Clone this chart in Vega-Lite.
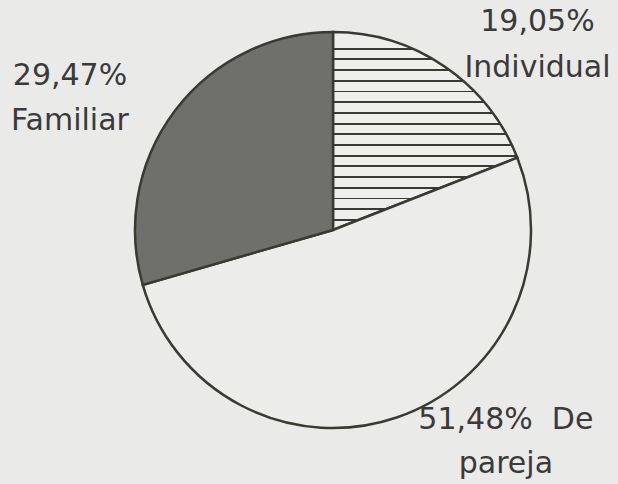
{
  "$schema": "https://vega.github.io/schema/vega-lite/v6.json",
  "width": 396,
  "height": 396,
  "autosize": {"type": "none"},
  "padding": {"left": 135, "top": 32, "right": 87, "bottom": 56},
  "background": "#eaeae8",
  "view": {"stroke": null},
  "data": {
    "values": [
      {"cat": "Individual", "pct": 19.05, "orden": 1, "label": "19,05%\nIndividual"},
      {"cat": "De pareja", "pct": 51.48, "orden": 2, "label": "51,48%\u00a0 De\npareja"},
      {"cat": "Familiar", "pct": 29.47, "orden": 3, "label": "29,47%\nFamiliar"}
    ]
  },
  "encoding": {
    "theta": {"field": "pct", "type": "quantitative", "stack": true},
    "order": {"field": "orden", "type": "quantitative"},
    "detail": {"field": "cat"}
  },
  "layer": [
    {
      "mark": {"type": "arc", "stroke": "#3a3a32", "strokeWidth": 2.5},
      "encoding": {
        "fill": {
          "condition": [
            {
              "test": "datum.cat === 'Individual'",
              "value": {
                "gradient": "linear",
                "x1": 0, "y1": 0, "x2": 0, "y2": 1,
                "stops": [
                  {"offset": 0, "color": "#eeeeec"},
                  {"offset": 0.0798, "color": "#eeeeec"}, {"offset": 0.0798, "color": "#3a3a32"}, {"offset": 0.0889, "color": "#3a3a32"}, {"offset": 0.0889, "color": "#eeeeec"},
                  {"offset": 0.1338, "color": "#eeeeec"}, {"offset": 0.1338, "color": "#3a3a32"}, {"offset": 0.1429, "color": "#3a3a32"}, {"offset": 0.1429, "color": "#eeeeec"},
                  {"offset": 0.1879, "color": "#eeeeec"}, {"offset": 0.1879, "color": "#3a3a32"}, {"offset": 0.1970, "color": "#3a3a32"}, {"offset": 0.1970, "color": "#eeeeec"},
                  {"offset": 0.2419, "color": "#eeeeec"}, {"offset": 0.2419, "color": "#3a3a32"}, {"offset": 0.2510, "color": "#3a3a32"}, {"offset": 0.2510, "color": "#eeeeec"},
                  {"offset": 0.2960, "color": "#eeeeec"}, {"offset": 0.2960, "color": "#3a3a32"}, {"offset": 0.3051, "color": "#3a3a32"}, {"offset": 0.3051, "color": "#eeeeec"},
                  {"offset": 0.3500, "color": "#eeeeec"}, {"offset": 0.3500, "color": "#3a3a32"}, {"offset": 0.3591, "color": "#3a3a32"}, {"offset": 0.3591, "color": "#eeeeec"},
                  {"offset": 0.4040, "color": "#eeeeec"}, {"offset": 0.4040, "color": "#3a3a32"}, {"offset": 0.4131, "color": "#3a3a32"}, {"offset": 0.4131, "color": "#eeeeec"},
                  {"offset": 0.4581, "color": "#eeeeec"}, {"offset": 0.4581, "color": "#3a3a32"}, {"offset": 0.4672, "color": "#3a3a32"}, {"offset": 0.4672, "color": "#eeeeec"},
                  {"offset": 0.5121, "color": "#eeeeec"}, {"offset": 0.5121, "color": "#3a3a32"}, {"offset": 0.5212, "color": "#3a3a32"}, {"offset": 0.5212, "color": "#eeeeec"},
                  {"offset": 0.5662, "color": "#eeeeec"}, {"offset": 0.5662, "color": "#3a3a32"}, {"offset": 0.5753, "color": "#3a3a32"}, {"offset": 0.5753, "color": "#eeeeec"},
                  {"offset": 0.6202, "color": "#eeeeec"}, {"offset": 0.6202, "color": "#3a3a32"}, {"offset": 0.6293, "color": "#3a3a32"}, {"offset": 0.6293, "color": "#eeeeec"},
                  {"offset": 0.6742, "color": "#eeeeec"}, {"offset": 0.6742, "color": "#3a3a32"}, {"offset": 0.6833, "color": "#3a3a32"}, {"offset": 0.6833, "color": "#eeeeec"},
                  {"offset": 0.7283, "color": "#eeeeec"}, {"offset": 0.7283, "color": "#3a3a32"}, {"offset": 0.7374, "color": "#3a3a32"}, {"offset": 0.7374, "color": "#eeeeec"},
                  {"offset": 0.7823, "color": "#eeeeec"}, {"offset": 0.7823, "color": "#3a3a32"}, {"offset": 0.7914, "color": "#3a3a32"}, {"offset": 0.7914, "color": "#eeeeec"},
                  {"offset": 0.8364, "color": "#eeeeec"}, {"offset": 0.8364, "color": "#3a3a32"}, {"offset": 0.8455, "color": "#3a3a32"}, {"offset": 0.8455, "color": "#eeeeec"},
                  {"offset": 0.8904, "color": "#eeeeec"}, {"offset": 0.8904, "color": "#3a3a32"}, {"offset": 0.8995, "color": "#3a3a32"}, {"offset": 0.8995, "color": "#eeeeec"},
                  {"offset": 0.9444, "color": "#eeeeec"}, {"offset": 0.9444, "color": "#3a3a32"}, {"offset": 0.9535, "color": "#3a3a32"}, {"offset": 0.9535, "color": "#eeeeec"},
                  {"offset": 1, "color": "#eeeeec"}
                ]
              }
            },
            {"test": "datum.cat === 'Familiar'", "value": "#6f6f6b"}
          ],
          "value": "#ececea"
        }
      }
    },
    {
      "mark": {"type": "text", "radius": 291.7, "thetaOffset": 0.1782, "font": "DejaVu Sans", "fontSize": 30, "color": "#3a3a3a", "lineBreak": "\n", "lineHeight": 46, "align": "center", "baseline": "middle"},
      "encoding": {
        "text": {"condition": {"test": "datum.cat === 'Individual'", "field": "label"}, "value": ""}
      }
    },
    {
      "mark": {"type": "text", "radius": 257, "thetaOffset": -0.4105, "font": "DejaVu Sans", "fontSize": 30, "color": "#3a3a3a", "lineBreak": "\n", "lineHeight": 44, "align": "center", "baseline": "middle"},
      "encoding": {
        "text": {"condition": {"test": "datum.cat === 'De pareja'", "field": "label"}, "value": ""}
      }
    },
    {
      "mark": {"type": "text", "radius": 304.8, "thetaOffset": -0.1152, "font": "DejaVu Sans", "fontSize": 30, "color": "#3a3a3a", "lineBreak": "\n", "lineHeight": 45, "align": "center", "baseline": "middle"},
      "encoding": {
        "text": {"condition": {"test": "datum.cat === 'Familiar'", "field": "label"}, "value": ""}
      }
    }
  ]
}
